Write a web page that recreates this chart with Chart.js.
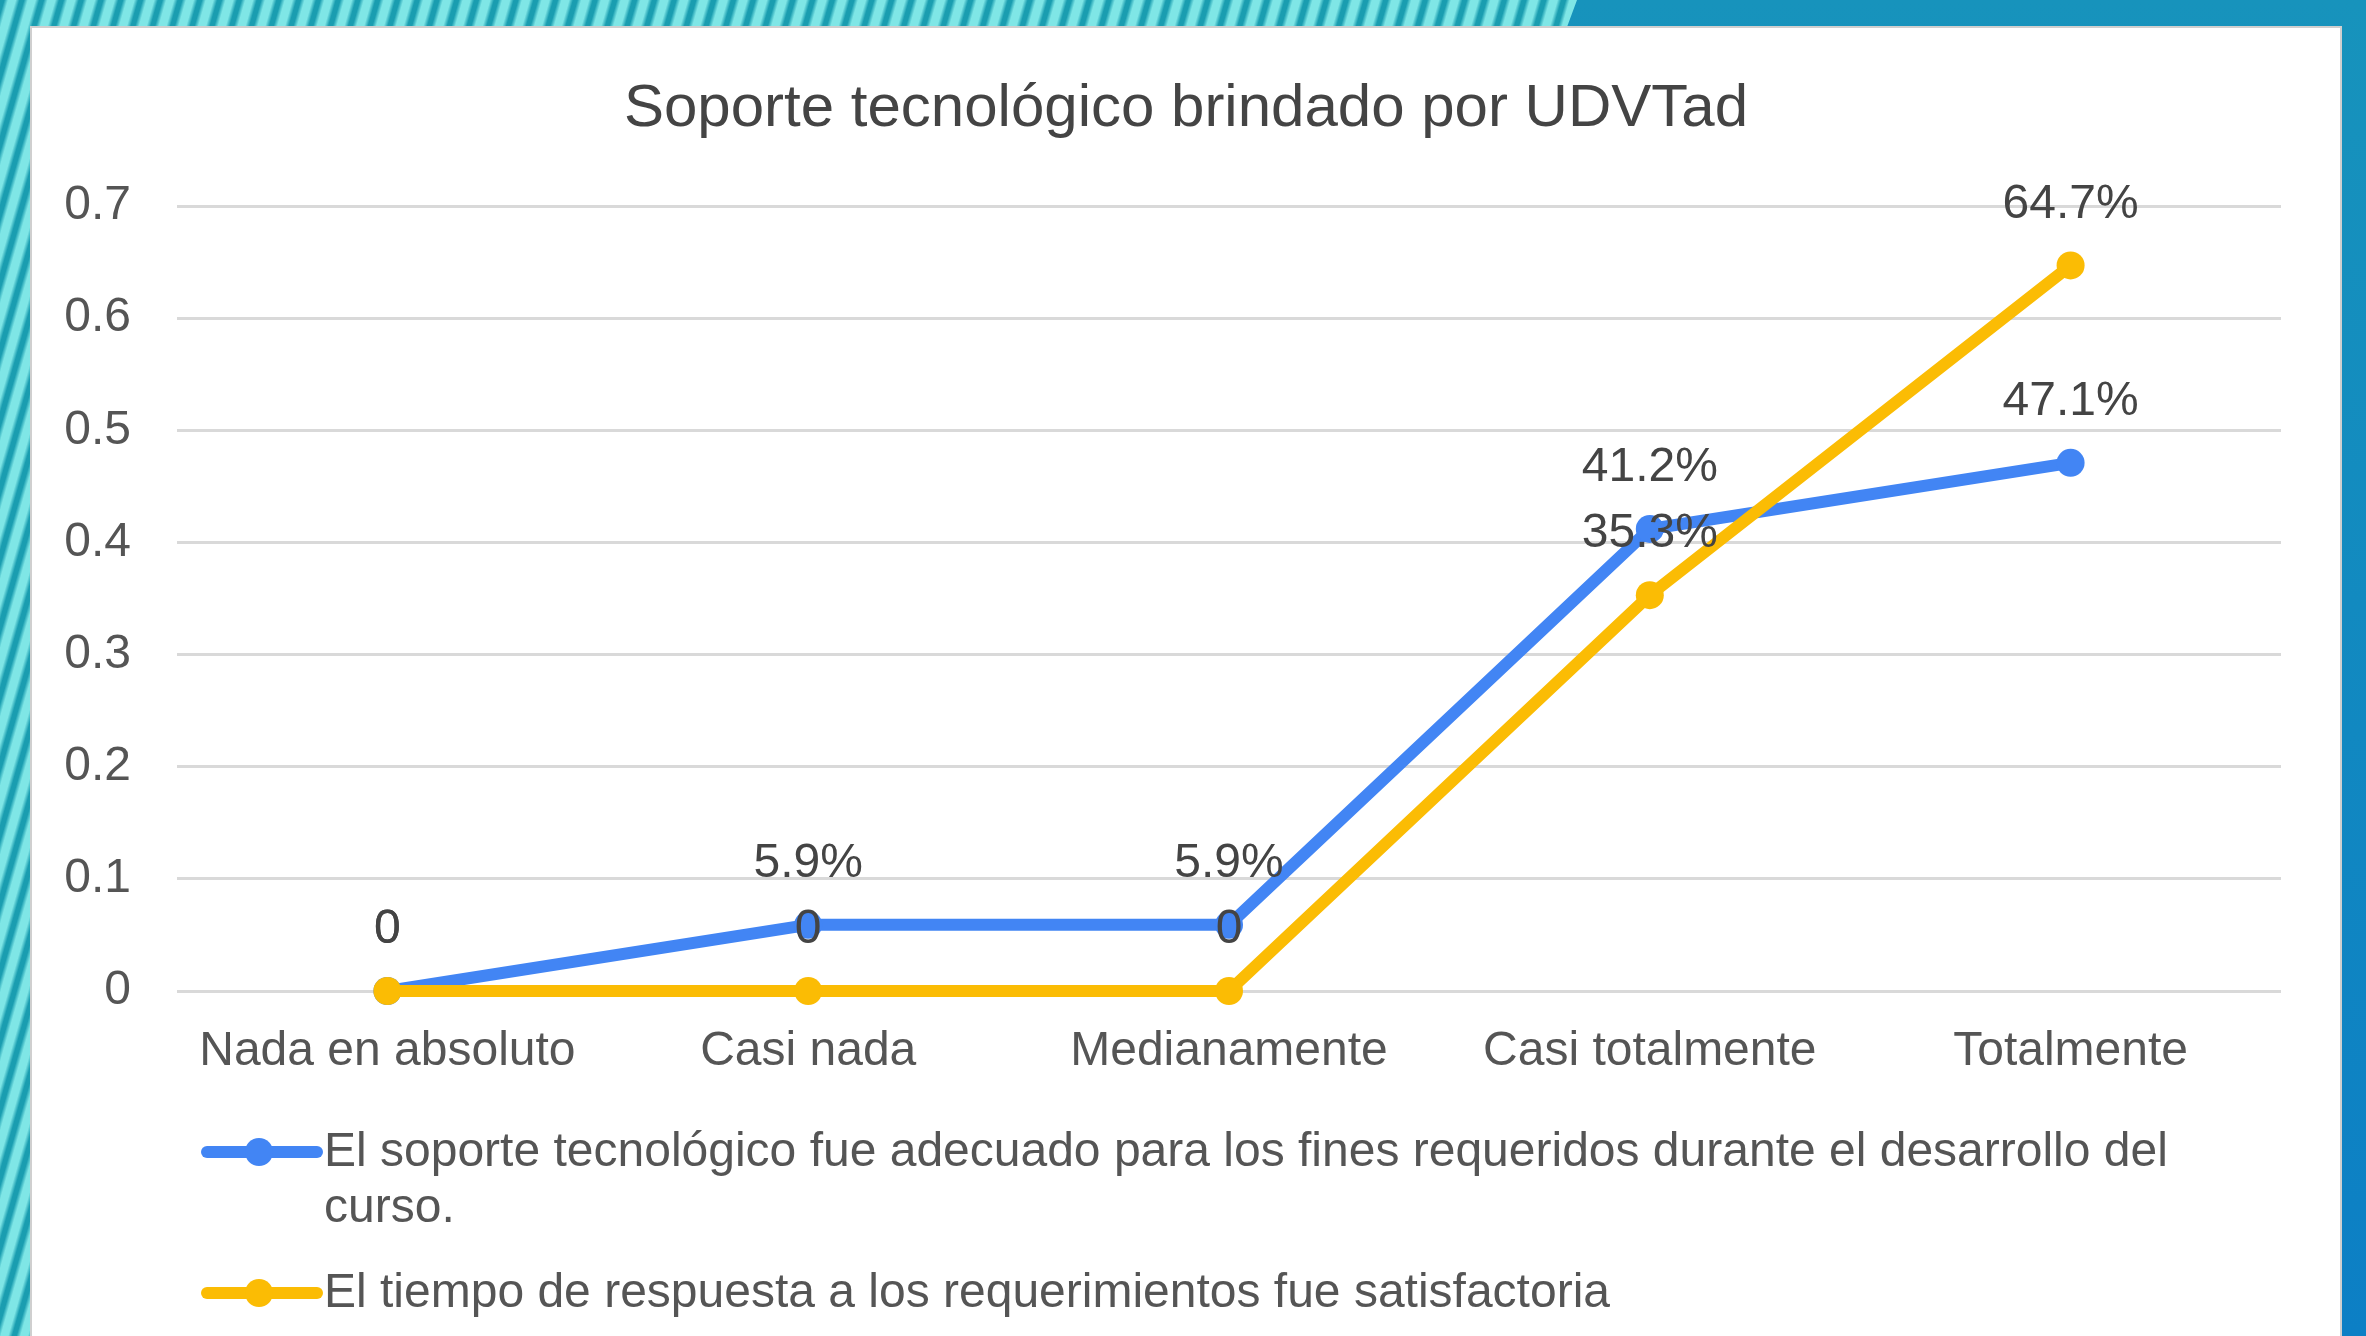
<!DOCTYPE html>
<html>
<head>
<meta charset="utf-8">
<script src="https://cdn.jsdelivr.net/npm/chart.js@4.4.1/dist/chart.umd.min.js"></script>
<style>
html,body{margin:0;padding:0;width:2366px;height:1336px;overflow:hidden;background:#fff;}
#stripes{position:absolute;left:0;top:0;width:2366px;height:1336px;
  background:repeating-linear-gradient(106deg,#1a9db0 0px,#1a9db0 4px,#7fe6e6 8px,#7fe6e6 15px,#1a9db0 19px);}
#blue{position:absolute;left:1560px;top:0;width:806px;height:1336px;
  background:linear-gradient(to bottom,#1793bc,#0c7fc5);
  clip-path:polygon(17px 0,806px 0,806px 1336px,781px 1336px,781px 27px,7px 27px);}
#panel{position:absolute;left:30px;top:26px;width:2312px;height:1320px;box-sizing:border-box;background:#fff;border:2px solid #cfcfcf;}
#chart{position:absolute;left:32px;top:27px;}
</style>
</head>
<body>
<div id="stripes"></div>
<div id="blue"></div>
<div id="panel"></div>
<canvas id="chart" width="2308" height="1309"></canvas>
<script>
const chartTitle = 'Soporte tecnológico brindado por UDVTad';
const categories = ['Nada en absoluto', 'Casi nada', 'Medianamente', 'Casi totalmente', 'Totalmente'];
const seriesNames = [
  'El soporte tecnológico fue adecuado para los fines requeridos durante el desarrollo del curso.',
  'El tiempo de respuesta a los requerimientos fue satisfactoria'
];
const soporteValues = [0, 0.059, 0.059, 0.412, 0.471];
const tiempoValues = [0, 0, 0, 0.353, 0.647];
const seriesColors = ['#4285f4', '#fbbc04'];
const yMin = 0, yMax = 0.7, yStep = 0.1;

const FONT = '"Liberation Sans", Arial, Helvetica, sans-serif';

function fmtLabel(v) { return v === 0 ? '0' : (v * 100).toFixed(1) + '%'; }

// center the title over the whole panel
const titleCenterPlugin = {
  id: 'titleCenter',
  afterLayout(chart) {
    const t = chart.titleBlock;
    if (t) { t.left = 0; t.right = chart.width; t.width = chart.width; }
  }
};

const dataLabelPlugin = {
  id: 'dataLabels',
  afterDatasetsDraw(chart) {
    const ctx = chart.ctx;
    ctx.save();
    ctx.font = '48px ' + FONT;
    ctx.fillStyle = '#444444';
    ctx.textAlign = 'center';
    ctx.textBaseline = 'middle';
    chart.data.datasets.forEach((ds, i) => {
      const meta = chart.getDatasetMeta(i);
      meta.data.forEach((pt, j) => {
        ctx.fillText(fmtLabel(ds.data[j]), pt.x, pt.y - 61);
      });
    });
    ctx.restore();
  }
};

const legendPlugin = {
  id: 'wrapLegend',
  afterDraw(chart) {
    const ctx = chart.ctx;
    const area = chart.chartArea;
    ctx.save();
    ctx.font = '48px ' + FONT;
    ctx.textAlign = 'left';
    ctx.textBaseline = 'alphabetic';
    const textX = 292;
    const maxW = area.right - textX;
    const lineH = 56;
    let baseline = area.bottom + 175;
    chart.data.datasets.forEach((ds) => {
      const words = ds.label.split(' ');
      const lines = [];
      let cur = '';
      words.forEach(w => {
        const test = cur ? cur + ' ' + w : w;
        if (ctx.measureText(test).width > maxW && cur) { lines.push(cur); cur = w; }
        else cur = test;
      });
      if (cur) lines.push(cur);
      const my = baseline - 14;
      ctx.strokeStyle = ds.borderColor;
      ctx.lineWidth = 12;
      ctx.lineCap = 'round';
      ctx.beginPath();
      ctx.moveTo(textX - 117, my);
      ctx.lineTo(textX - 7, my);
      ctx.stroke();
      ctx.fillStyle = ds.borderColor;
      ctx.beginPath();
      ctx.arc(textX - 65, my, 14, 0, Math.PI * 2);
      ctx.fill();
      ctx.fillStyle = '#555555';
      lines.forEach((ln, k) => {
        ctx.fillText(ln, textX, baseline + k * lineH);
      });
      baseline += (lines.length - 1) * lineH + 85;
    });
    ctx.restore();
  }
};

function makeDataset(label, data, color, order) {
  return {
    label: label,
    data: data,
    borderColor: color,
    backgroundColor: color,
    pointBackgroundColor: color,
    borderWidth: 12,
    pointRadius: 14,
    pointBorderWidth: 0,
    borderCapStyle: 'round',
    borderJoinStyle: 'round',
    tension: 0,
    clip: false,
    order: order
  };
}

new Chart(document.getElementById('chart'), {
  type: 'line',
  data: {
    labels: categories,
    datasets: [
      makeDataset(seriesNames[0], soporteValues, seriesColors[0], 1),
      makeDataset(seriesNames[1], tiempoValues, seriesColors[1], 0)
    ]
  },
  options: {
    responsive: false,
    devicePixelRatio: 1,
    animation: false,
    layout: { padding: { left: 0, right: 59, top: 0, bottom: 225 } },
    plugins: {
      legend: { display: false },
      tooltip: { enabled: false },
      title: {
        display: true,
        text: chartTitle,
        color: '#444444',
        font: { family: FONT, size: 60, weight: 'normal', lineHeight: 1.2 },
        padding: { top: 46, bottom: 61 }
      }
    },
    scales: {
      x: {
        offset: true,
        grid: { display: false, drawTicks: false },
        border: { display: false },
        ticks: { color: '#555555', font: { family: FONT, size: 48, lineHeight: 1.2 }, padding: 32, maxRotation: 0, autoSkip: false },
        afterFit(scale) { scale.height = 120; }
      },
      y: {
        min: yMin,
        max: yMax,
        grid: { color: '#d9d9d9', lineWidth: 3, drawTicks: false },
        border: { display: false },
        ticks: {
          stepSize: yStep,
          color: '#555555',
          font: { family: FONT, size: 48 },
          padding: 46,
          callback: v => (Math.abs(v) < 1e-9 ? '0' : v.toFixed(1))
        },
        afterFit(scale) { scale.width = 145; }
      }
    }
  },
  plugins: [titleCenterPlugin, dataLabelPlugin, legendPlugin]
});
</script>
</body>
</html>
